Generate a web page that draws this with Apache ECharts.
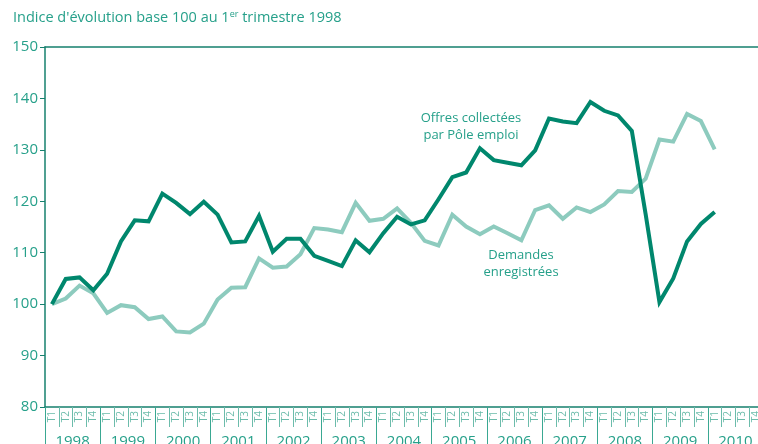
<!DOCTYPE html>
<html>
    <head>
        <meta charset="utf-8">
        <style>
            body { margin: 0; background: #fff; }
            #chart { width: 758px; height: 444px; }
        </style>
    </head>
    <body>
        <div id="chart"></div>
        <script type="text/javascript" src="https://cdn.jsdelivr.net/npm/echarts@6.0.0/dist/echarts.min.js"></script>
        <script type="text/javascript">

            const years = ['1998', '1999', '2000', '2001', '2002', '2003', '2004', '2005', '2006', '2007', '2008', '2009', '2010'];
            const quarterNames = ['T1', 'T2', 'T3', 'T4'];

            // Offres collectées par Pôle emploi, 1998 T1 -> 2010 T1
            const offres = [100, 104.9, 105.2, 102.7, 105.9, 112.2, 116.3, 116.1, 121.5, 119.7, 117.5, 119.9,
                117.4, 112.0, 112.2, 117.2, 110.2, 112.7, 112.7, 109.4, 108.4, 107.4, 112.4, 110.1,
                113.8, 117.0, 115.5, 116.3, 120.4, 124.7, 125.6, 130.3, 128.0, 127.5, 127.0, 129.9,
                136.1, 135.5, 135.2, 139.3, 137.6, 136.7, 133.7, 117.5, 100.4, 105.0, 112.2, 115.6, 117.9];

            // Demandes enregistrées
            const demandes = [100, 101.1, 103.6, 102.1, 98.3, 99.8, 99.4, 97.1, 97.6, 94.7, 94.5, 96.2,
                100.9, 103.2, 103.3, 108.9, 107.1, 107.3, 109.7, 114.8, 114.5, 114.0, 119.7, 116.2,
                116.6, 118.6, 115.8, 112.3, 111.4, 117.4, 115.1, 113.6, 115.1, 113.8, 112.4, 118.3,
                119.2, 116.6, 118.8, 117.9, 119.4, 122.0, 121.8, 124.4, 132.0, 131.6, 137.0, 135.6, 130.1];

            const quarters = [];
            for (const y of years) {
                for (const q of quarterNames) {
                    quarters.push(y + ' ' + q);
                }
            }

            const dark = '#00876d';
            const light = '#8dcbbe';
            const textColor = '#26a08a';
            const axisColor = '#16806e';
            const font = 'Open Sans';

            const myChart = echarts.init(document.getElementById('chart'));

            const option = {
                animation: false,
                textStyle: { fontFamily: font },
                title: {
                    text: "Indice d'évolution base 100 au 1{sup|er} trimestre 1998",
                    left: 8,
                    top: 5,
                    textStyle: {
                        fontFamily: font,
                        fontSize: 14.5,
                        fontWeight: 'normal',
                        color: textColor,
                        rich: {
                            sup: { fontSize: 9, color: textColor, verticalAlign: 'top', padding: [0, 0, 6, 0] }
                        }
                    }
                },
                grid: { left: 45, width: 718, top: 47, bottom: 37, outerBoundsMode: 'none', containLabel: false },
                xAxis: [
                    {
                        type: 'category',
                        data: quarters,
                        position: 'bottom',
                        boundaryGap: true,
                        axisLine: { lineStyle: { color: axisColor, width: 1.5 } },
                        axisTick: { show: true, interval: 0, length: 20, lineStyle: { color: '#6cbcab', width: 1 } },
                        axisLabel: {
                            rotate: 90,
                            interval: 0,
                            margin: 4,
                            fontSize: 10,
                            color: '#6cbcab',
                            formatter: (v) => v.split(' ')[1]
                        }
                    },
                    {
                        type: 'category',
                        data: years,
                        position: 'bottom',
                        boundaryGap: true,
                        axisLine: { show: false },
                        axisTick: { show: true, interval: 0, length: 40, lineStyle: { color: '#3aa892', width: 1 } },
                        axisLabel: { interval: 0, margin: 27, fontSize: 15, color: textColor }
                    },
                    {
                        type: 'category',
                        data: quarters,
                        position: 'top',
                        axisLine: { lineStyle: { color: axisColor, width: 1.5 } },
                        axisTick: { show: false },
                        axisLabel: { show: false }
                    }
                ],
                yAxis: {
                    type: 'value',
                    min: 80,
                    max: 150,
                    interval: 10,
                    axisLine: { show: true, lineStyle: { color: axisColor, width: 1.5 } },
                    axisTick: { show: true, length: 5, lineStyle: { color: axisColor } },
                    axisLabel: { fontSize: 15, color: textColor, margin: 7 },
                    splitLine: { show: false }
                },
                series: [
                    {
                        name: 'Demandes enregistrées',
                        type: 'line',
                        data: demandes,
                        symbol: 'none',
                        lineStyle: { color: light, width: 4, join: 'miter' }
                    },
                    {
                        name: 'Offres collectées par Pôle emploi',
                        type: 'line',
                        data: offres,
                        symbol: 'none',
                        lineStyle: { color: dark, width: 4, join: 'miter' }
                    }
                ],
                graphic: [
                    {
                        type: 'text',
                        x: 471, y: 110,
                        style: {
                            text: 'Offres collectées\npar Pôle emploi',
                            align: 'center',
                            lineHeight: 17,
                            fontFamily: font,
                            fontSize: 13,
                            fill: textColor
                        }
                    },
                    {
                        type: 'text',
                        x: 521, y: 247,
                        style: {
                            text: 'Demandes\nenregistrées',
                            align: 'center',
                            lineHeight: 17,
                            fontFamily: font,
                            fontSize: 13,
                            fill: textColor
                        }
                    }
                ]
            };

            myChart.setOption(option);

        </script>
    </body>
</html>
